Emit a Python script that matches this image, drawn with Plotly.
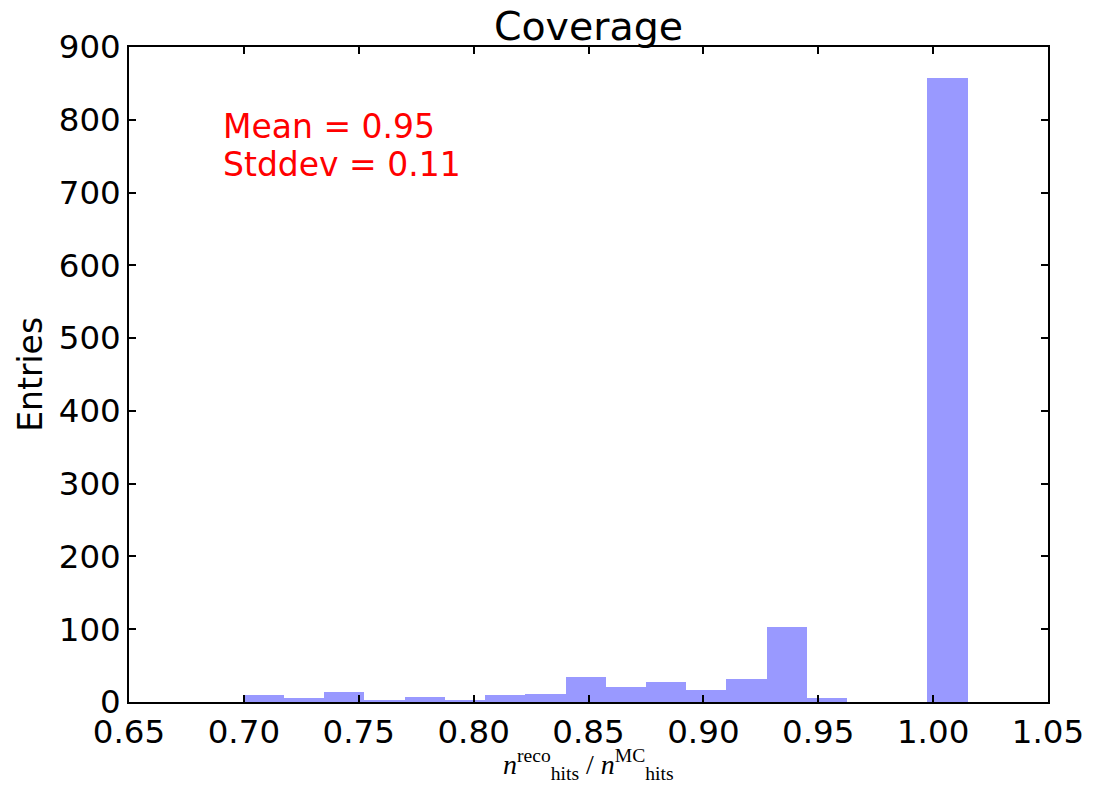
import plotly.graph_objects as go

# Histogram data (bin edges start at 0.70, width 0.0175)
bin_start = 0.70
bin_width = 0.0175
counts = [10, 5, 14, 3, 7, 3, 10, 11, 35, 21, 28, 16, 31, 103, 5, 0, 0, 857]
bin_centers = [bin_start + bin_width * (i + 0.5) for i in range(len(counts))]

x_ticks = [0.65, 0.70, 0.75, 0.80, 0.85, 0.90, 0.95, 1.00, 1.05]
y_ticks = [0, 100, 200, 300, 400, 500, 600, 700, 800, 900]

mean_text = "Mean = 0.95"
std_text = "Stddev = 0.11"

W, H = 1096, 792
L, R, T, B = 129, 45, 47, 90

fig = go.Figure()
fig.add_trace(go.Bar(
    x=bin_centers, y=counts, width=bin_width,
    marker=dict(color="rgb(153,153,255)", line=dict(width=0)),
    showlegend=False,
))

axis_common = dict(
    showgrid=False, zeroline=False, showline=True, linecolor="black", linewidth=1.5,
    ticks="inside", ticklen=7, tickwidth=1.5, tickcolor="black", mirror="ticks",
    tickfont=dict(family="DejaVu Sans", size=32.5, color="black"),
)

pw = W - L - R
ph = H - T - B

fig.update_layout(
    width=W, height=H,
    margin=dict(l=L, r=R, t=T, b=B),
    paper_bgcolor="white", plot_bgcolor="white",
    bargap=0,
    xaxis=dict(range=[0.65, 1.05], tickvals=x_ticks,
               ticktext=[f"{v:.2f}" for v in x_ticks], **axis_common),
    yaxis=dict(range=[0, 900], tickvals=y_ticks,
               ticktext=[str(v) for v in y_ticks], **axis_common),
    title=dict(text="Coverage", x=0.5, xref="paper", y=1 - 26 / H, yanchor="middle",
               font=dict(family="DejaVu Sans", size=39.5, color="black")),
    annotations=[
        dict(text=mean_text, xref="paper", yref="paper", x=(221 - L) / pw,
             y=(H - B - 127) / ph, xanchor="left", yanchor="middle",
             showarrow=False, font=dict(family="DejaVu Sans", size=33, color="red")),
        dict(text=std_text, xref="paper", yref="paper", x=(221 - L) / pw,
             y=(H - B - 165) / ph, xanchor="left", yanchor="middle",
             showarrow=False, font=dict(family="DejaVu Sans", size=33, color="red")),
        dict(text="Entries", xref="paper", yref="paper", x=(30 - L) / pw,
             y=0.5, xanchor="center", yanchor="middle", textangle=-90,
             showarrow=False, font=dict(family="DejaVu Sans", size=33, color="black")),
        dict(text="<i>n</i><sup>reco</sup><sub>hits</sub> / <i>n</i><sup>MC</sup><sub>hits</sub>",
             xref="paper", yref="paper", x=0.5, y=-(764 - (H - B)) / ph,
             xanchor="center", yanchor="middle", showarrow=False,
             font=dict(family="Liberation Serif", size=28, color="black")),
    ],
)

fig.write_html("out.html")
